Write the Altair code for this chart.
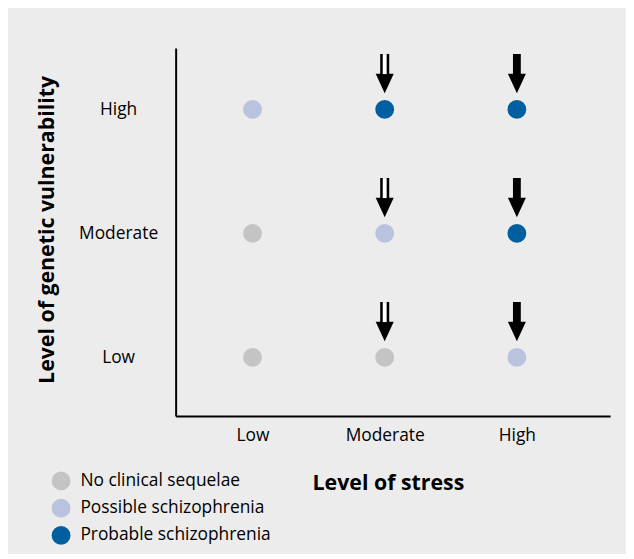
import altair as alt
import pandas as pd

stress_levels = ["Low", "Moderate", "High"]
vulnerability_levels = ["Low", "Moderate", "High"]
outcomes = ["No clinical sequelae", "Possible schizophrenia", "Probable schizophrenia"]
outcome_colors = ["#c4c4c4", "#b9c2de", "#005f9f"]

# outcome per (vulnerability, stress)
grid_vulnerability = ["High", "High", "High", "Moderate", "Moderate", "Moderate", "Low", "Low", "Low"]
grid_stress = ["Low", "Moderate", "High", "Low", "Moderate", "High", "Low", "Moderate", "High"]
grid_outcome = [
    "Possible schizophrenia", "Probable schizophrenia", "Probable schizophrenia",
    "No clinical sequelae", "Possible schizophrenia", "Probable schizophrenia",
    "No clinical sequelae", "No clinical sequelae", "Possible schizophrenia",
]

arrow_stress = ["Moderate", "High"]
arrow_style = ["double", "solid"]

points = pd.DataFrame({
    "stress": grid_stress,
    "vulnerability": grid_vulnerability,
    "outcome": grid_outcome,
})
points["sx"] = points["stress"].map(stress_levels.index)
points["vy"] = points["vulnerability"].map(vulnerability_levels.index)

arrow_rows = []
for v in vulnerability_levels:
    for s, st in zip(arrow_stress, arrow_style):
        arrow_rows.append({"stress": s, "vulnerability": v, "style": st,
                           "sx": stress_levels.index(s), "vy": vulnerability_levels.index(v)})
arrows = pd.DataFrame(arrow_rows)

label_font = "Open Sans"
label_size = 17.5
x_scale = alt.Scale(domain=[-0.5816, 2.7054], nice=False, zero=False)
y_scale = alt.Scale(domain=[-0.472, 2.496], nice=False, zero=False)

x_axis = alt.Axis(
    values=[0, 1, 2],
    labelExpr="['Low','Moderate','High'][datum.value]",
    title="Level of stress",
    titleX=214, titleY=68, titleAlign="center", titleBaseline="middle",
    titleFontSize=21.5, titleFontWeight="bold", titleFont=label_font, titleColor="#000000",
    labelFont=label_font, labelFontSize=label_size, labelColor="#000000",
    labelBaseline="middle", labelPadding=20,
    ticks=False, tickSize=0, grid=False,
    domainColor="#000000", domainWidth=2,
)
y_axis = alt.Axis(
    values=[0, 1, 2],
    labelExpr="['Low','Moderate','High'][datum.value]",
    title="Level of genetic vulnerability",
    titleX=-129, titleY=183, titleAngle=270, titleAlign="center", titleBaseline="middle",
    titleFontSize=21.5, titleFontWeight="bold", titleFont=label_font, titleColor="#000000",
    labelFont=label_font, labelFontSize=label_size, labelColor="#000000",
    labelAlign="center", labelBaseline="middle", labelPadding=58,
    ticks=False, tickSize=0, grid=False,
    domainColor="#000000", domainWidth=2,
)

base_pts = alt.Chart(points).mark_circle(size=360, opacity=1).encode(
    x=alt.X("sx:Q", scale=x_scale, axis=x_axis),
    y=alt.Y("vy:Q", scale=y_scale, axis=y_axis),
    color=alt.Color(
        "outcome:N",
        scale=alt.Scale(domain=outcomes, range=outcome_colors),
        legend=alt.Legend(
            title=None, orient="none", legendX=-125, legendY=427,
            symbolType="circle", symbolSize=360, symbolOpacity=1, symbolStrokeWidth=0,
            labelFont=label_font, labelFontSize=label_size, labelColor="#000000",
            labelOffset=10, rowPadding=8.5, padding=0, labelLimit=400,
        ),
    ),
)

solid_path = "M-0.2,-1 L0.2,-1 L0.2,0 L0.46,0 L0,1 L-0.46,0 L-0.2,0 Z"
double_path = "M-0.23,-1 L0.23,-1 L0.23,0 L0.46,0 L0,1 L-0.46,0 L-0.23,0 Z"
gap_path = "M-0.1,-1 L0.1,-1 L0.1,0.02 L-0.1,0.02 Z"

arrow_base = alt.Chart(arrows).encode(
    x=alt.X("sx:Q", scale=x_scale),
    y=alt.Y("vy:Q", scale=y_scale),
)

solid_arrows = arrow_base.transform_filter(alt.datum.style == "solid").mark_point(
    shape=solid_path, size=1560, filled=True, fill="#000000", strokeWidth=0, opacity=1, yOffset=-36
)
double_arrows = arrow_base.transform_filter(alt.datum.style == "double").mark_point(
    shape=double_path, size=1560, filled=True, fill="#000000", strokeWidth=0, opacity=1, yOffset=-36
)
double_gap = arrow_base.transform_filter(alt.datum.style == "double").mark_point(
    shape=gap_path, size=1560, filled=True, fill="#ffffff", strokeWidth=0, opacity=1, yOffset=-36
)

chart = alt.layer(base_pts, double_arrows, double_gap, solid_arrows).properties(
    width=438, height=371,
    background="#ececec",
    padding={"left": 169, "top": 38, "right": 16, "bottom": 137},
    autosize=alt.AutoSizeParams(type="none"),
).configure_view(stroke=None)

chart.save("out.html", embed_options={"renderer": "svg", "actions": False})
